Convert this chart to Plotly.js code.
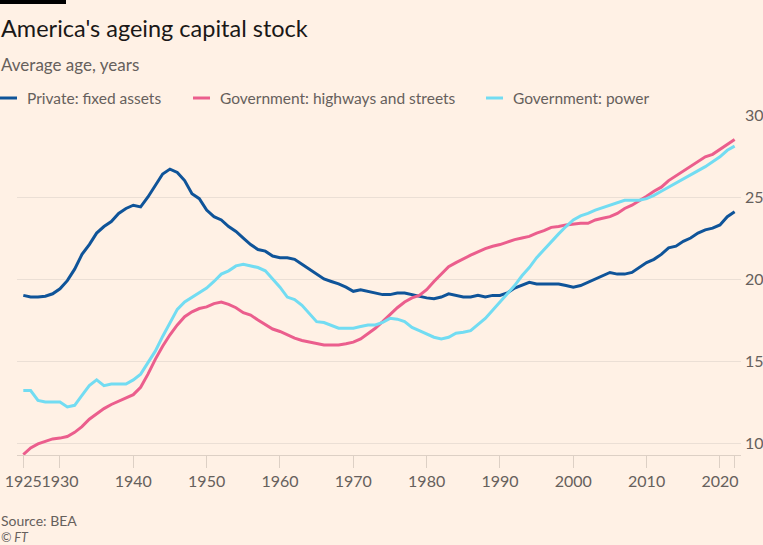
<!DOCTYPE html>
<html>
<head>
<meta charset="utf-8">
<script src="https://cdn.plot.ly/plotly-3.0.1.min.js"></script>
<style>
  html, body { margin: 0; padding: 0; background: #FFF1E5; }
  #chart { width: 763px; height: 545px; }
</style>
</head>
<body>
<div id="chart"></div>
<script>
const startYear = 1925;
const endYear = 2022;

const privateFixedAssets = [
  19.0, 18.9, 18.9, 18.95, 19.1, 19.4, 19.9, 20.6, 21.5, 22.1,
  22.8, 23.2, 23.5, 24.0, 24.3, 24.5, 24.4, 25.0, 25.7, 26.4,
  26.7, 26.5, 26.0, 25.2, 24.9, 24.2, 23.8, 23.6, 23.2, 22.9,
  22.5, 22.1, 21.8, 21.7, 21.4, 21.3, 21.3, 21.2, 20.9, 20.6,
  20.3, 20.0, 19.85, 19.7, 19.5, 19.25, 19.35, 19.25, 19.15, 19.05,
  19.05, 19.15, 19.15, 19.05, 18.95, 18.85, 18.8, 18.9, 19.1, 19.0,
  18.9, 18.9, 19.0, 18.9, 19.0, 19.0, 19.15, 19.45, 19.65, 19.8,
  19.7, 19.7, 19.7, 19.7, 19.6, 19.5, 19.6, 19.8, 20.0, 20.2,
  20.4, 20.3, 20.3, 20.4, 20.7, 21.0, 21.2, 21.5, 21.9, 22.0,
  22.3, 22.5, 22.8, 23.0, 23.1, 23.3, 23.8, 24.1
];

const govHighways = [
  9.3, 9.7, 9.95, 10.1, 10.25, 10.3, 10.4, 10.65, 11.0, 11.45,
  11.8, 12.1, 12.35, 12.55, 12.75, 12.95, 13.4, 14.2, 15.1, 15.9,
  16.6, 17.2, 17.7, 18.0, 18.2, 18.3, 18.5, 18.6, 18.45, 18.25,
  17.95, 17.8, 17.5, 17.2, 16.95, 16.8, 16.6, 16.4, 16.25, 16.15,
  16.05, 15.98, 15.98, 15.98, 16.05, 16.15, 16.35, 16.65, 17.0, 17.4,
  17.85, 18.25, 18.6, 18.85, 19.0, 19.35, 19.85, 20.3, 20.75, 21.0,
  21.25, 21.45, 21.65, 21.85, 22.0, 22.1, 22.25, 22.4, 22.5, 22.6,
  22.8, 22.95, 23.15, 23.2, 23.3, 23.35, 23.4, 23.4, 23.6, 23.7,
  23.8, 24.0, 24.3, 24.5, 24.75, 25.05, 25.35, 25.6, 26.0, 26.3,
  26.6, 26.9, 27.2, 27.45, 27.6, 27.9, 28.2, 28.5
];

const govPower = [
  13.2, 13.2, 12.6, 12.5, 12.5, 12.5, 12.2, 12.3, 12.9, 13.5,
  13.85, 13.5, 13.6, 13.6, 13.6, 13.85, 14.2, 14.9, 15.6, 16.5,
  17.3, 18.15, 18.6, 18.9, 19.15, 19.45, 19.85, 20.3, 20.5, 20.8,
  20.9, 20.8, 20.7, 20.5, 20.0, 19.5, 18.9, 18.75, 18.4, 17.9,
  17.4, 17.35, 17.15, 17.0, 17.0, 17.0, 17.1, 17.2, 17.2, 17.35,
  17.6, 17.55, 17.4, 17.05, 16.85, 16.65, 16.45, 16.35, 16.45, 16.7,
  16.75, 16.85, 17.2, 17.6, 18.1, 18.6, 19.1, 19.6, 20.2, 20.7,
  21.3, 21.8, 22.3, 22.75, 23.2, 23.6, 23.85, 24.0, 24.2, 24.35,
  24.5, 24.65, 24.8, 24.8, 24.8, 24.9, 25.1, 25.35, 25.6, 25.8,
  26.05, 26.3, 26.6, 26.85, 27.15, 27.45, 27.85, 28.1
];

const seriesNames = ["Private: fixed assets", "Government: highways and streets", "Government: power"];
const xTickVals = [1925, 1930, 1940, 1950, 1960, 1970, 1980, 1990, 2000, 2010, 2020, 2022];
const xTickText = ["1925", "1930", "1940", "1950", "1960", "1970", "1980", "1990", "2000", "2010", "2020", ""];
const yTickVals = [10, 15, 20, 25, 30];

const years = [];
for (let y = startYear; y <= endYear; y++) years.push(y);

const colors = ["#0F5499", "#EB5E8D", "#72DCF2"];
const font = "Lato, 'Noto Sans', sans-serif";
const grey = "#66605C";
const axisGrey = "#DDD0C5";

const W = 763, H = 545;
const M = { l: 17, r: 22, t: 115, b: 90 };
const pw = W - M.l - M.r, ph = H - M.t - M.b;
const px = x => (x - M.l) / pw;
const py = y => (H - M.b - y) / ph;
const xRange = [1924.14, 2022.87];

const traces = [privateFixedAssets, govHighways, govPower].map((vals, i) => ({
  x: years, y: vals, type: "scatter", mode: "lines", name: seriesNames[i],
  line: { color: colors[i], width: 3, shape: "linear" }, hoverinfo: "skip"
}));

const legendX = [0, 193, 486];
const shapes = [
  { type: "rect", xref: "paper", yref: "paper", x0: px(0), x1: px(66), y0: py(0), y1: py(4),
    fillcolor: "#000000", line: { width: 0 } }
];
const annotations = [
  { text: "America's ageing capital stock", x: px(-1), y: py(28), xref: "paper", yref: "paper",
    xanchor: "left", yanchor: "middle", showarrow: false, font: { family: font, size: 23.5, color: "#1A1817" } },
  { text: "Average age, years", x: px(-1), y: py(64), xref: "paper", yref: "paper",
    xanchor: "left", yanchor: "middle", showarrow: false, font: { family: font, size: 17, color: grey } },
  { text: "Source: BEA", x: px(-1), y: py(520), xref: "paper", yref: "paper",
    xanchor: "left", yanchor: "middle", showarrow: false, font: { family: font, size: 14, color: grey } },
  { text: "<i>© FT</i>", x: px(-1), y: py(537), xref: "paper", yref: "paper",
    xanchor: "left", yanchor: "middle", showarrow: false, font: { family: font, size: 12.5, color: grey } }
];
seriesNames.forEach((n, i) => {
  shapes.push({ type: "line", xref: "paper", yref: "paper", x0: px(legendX[i]), x1: px(legendX[i] + 17),
    y0: py(98), y1: py(98), line: { color: colors[i], width: 3 } });
  annotations.push({ text: n, x: px(legendX[i] + 25), y: py(98), xref: "paper", yref: "paper",
    xanchor: "left", yanchor: "middle", showarrow: false, font: { family: font, size: 15.5, color: grey } });
});

const layout = {
  width: W, height: H,
  margin: M,
  paper_bgcolor: "#FFF1E5", plot_bgcolor: "#FFF1E5",
  showlegend: false,
  font: { family: font, color: grey, size: 15 },
  xaxis: {
    range: xRange,
    tickmode: "array", tickvals: xTickVals, ticktext: xTickText, tickangle: 0,
    ticks: "outside", ticklen: 12, tickcolor: axisGrey, tickwidth: 1,
    showline: true, linecolor: axisGrey, linewidth: 1,
    showgrid: false, zeroline: false,
    tickfont: { family: font, size: 16, color: grey },
    fixedrange: true
  },
  xaxis2: {
    range: xRange, overlaying: "x", anchor: "y", side: "bottom",
    tickmode: "linear", tick0: 1925, dtick: 1,
    ticks: "outside", ticklen: 7, tickcolor: axisGrey, tickwidth: 1,
    showticklabels: false, showgrid: false, showline: false, zeroline: false,
    fixedrange: true
  },
  yaxis: {
    range: [9.27, 30], side: "right",
    tickmode: "array", tickvals: yTickVals,
    showgrid: true, gridcolor: "#EBDFD5", gridwidth: 1,
    zeroline: false, showline: false, ticks: "",
    ticklabelstandoff: 3,
    tickfont: { family: font, size: 16, color: grey },
    fixedrange: true
  },
  shapes: shapes,
  annotations: annotations
};

Plotly.newPlot("chart", traces, layout, { displayModeBar: false, staticPlot: true });
</script>
</body>
</html>
